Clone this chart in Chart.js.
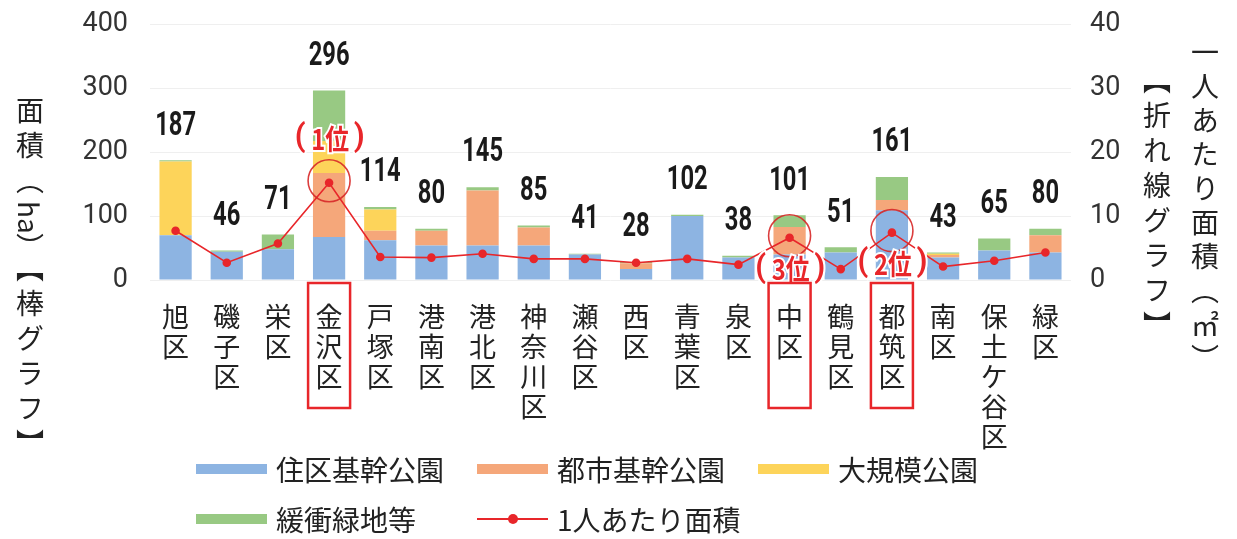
<!DOCTYPE html>
<html lang="ja">
<head>
<meta charset="utf-8">
<title>公園面積</title>
<script src="https://cdn.jsdelivr.net/npm/chart.js@4.4.1/dist/chart.umd.min.js"></script>
<style>
  body { margin: 0; background: #fff; }
  #wrap { position: relative; width: 1237px; height: 539px; overflow: hidden; }
  #wrap canvas { position: absolute; left: 0; top: 0; }
  .vtitle {
    position: absolute;
    writing-mode: vertical-rl;
    font-family: 'Noto Sans CJK JP', sans-serif;
    font-size: 28px;
    line-height: 30px;
    letter-spacing: 7px;
    color: #222;
    white-space: nowrap;
  }
  .vtitle .lat { letter-spacing: 0; }
  #legend {
    position: absolute; left: 196px; top: 444px;
    display: grid; grid-template-columns: 281px 281px 281px;
    grid-auto-rows: 50px;
    font-family: 'Noto Sans CJK JP', sans-serif;
    font-size: 28px; color: #222;
  }
  .item { display: flex; align-items: center; white-space: nowrap; }
  .swatch { width: 71px; height: 10px; margin-right: 9px; flex: none; position: relative; }
</style>
</head>
<body>
<div id="wrap">
  <canvas id="c" width="1237" height="539"></canvas>
  <div class="vtitle" style="left:15px; top:96px;">面積（<span class="lat">ha</span>）【棒グラフ】</div>
  <div class="vtitle" style="left:1190px; top:38px; letter-spacing:6px;">一人あたり面積（㎡）</div>
  <div class="vtitle" style="left:1142px; top:66px; letter-spacing:7px;">【折れ線グラフ】</div>
  <div id="legend"></div>
</div>
<script>
// --- data ---
const wards = ['旭区', '磯子区', '栄区', '金沢区', '戸塚区', '港南区', '港北区', '神奈川区', '瀬谷区',
  '西区', '青葉区', '泉区', '中区', '鶴見区', '都筑区', '南区', '保土ケ谷区', '緑区'];

// 面積 (ha)
const jukuPark   = [70, 44, 48, 67, 62, 54, 54, 54, 40, 17, 100, 35, 40, 43, 109, 35, 46, 43]; // 住区基幹公園
const toshiPark  = [0, 0, 0, 100, 15, 23, 86, 28, 0, 9, 0, 0, 43, 0, 16, 4, 0, 27];           // 都市基幹公園
const largePark  = [115, 0, 0, 50, 33, 0, 0, 0, 0, 0, 0, 0, 0, 0, 0, 2, 0, 0];                 // 大規模公園
const bufferArea = [2, 2, 23, 79, 4, 3, 5, 3, 1, 2, 2, 3, 18, 8, 36, 2, 19, 10];              // 緩衝緑地等

// 1人あたり面積 (㎡)
const perPerson = [7.7, 2.7, 5.7, 15.2, 3.6, 3.5, 4.1, 3.3, 3.3, 2.7, 3.3, 2.4, 6.6, 1.7, 7.4, 2.1, 3.0, 4.3];

const leftTicks = [0, 100, 200, 300, 400];
const rightTicks = [0, 10, 20, 30, 40];

// ranking callouts: ward index, rank number
const rankWards = [3, 14, 12];
const rankNums = ['1', '2', '3'];

const totals = wards.map((_, i) => jukuPark[i] + toshiPark[i] + largePark[i] + bufferArea[i]);

const RED = '#e8262a';
const colors = ['#8db4e2', '#f5a77a', '#fdd45a', '#98c983'];

// --- plugins ---
const totalLabels = {
  id: 'totalLabels',
  afterDatasetsDraw(chart) {
    const { ctx, scales: { x, y } } = chart;
    ctx.save();
    ctx.fillStyle = '#1a1a1a';
    ctx.font = 'bold 33px Roboto, sans-serif';
    ctx.textAlign = 'center';
    ctx.textBaseline = 'middle';
    totals.forEach((t, i) => {
      const px = x.getPixelForValue(i);
      const py = y.getPixelForValue(t) - 34;
      ctx.save();
      ctx.translate(px, py);
      ctx.scale(0.72, 1);
      ctx.fillText(String(t), 0, 0);
      ctx.restore();
    });
    ctx.restore();
  }
};

function haloText(ctx, s, x, y) {
  ctx.strokeText(s, x, y);
  ctx.fillText(s, x, y);
}

const rankMarks = {
  id: 'rankMarks',
  afterDraw(chart) {
    const { ctx, scales: { x, y2 } } = chart;
    ctx.save();
    rankWards.forEach((idx, k) => {
      const px = x.getPixelForValue(idx);
      const py = y2.getPixelForValue(perPerson[idx]);
      // circle round the point
      ctx.strokeStyle = 'rgba(215,40,40,0.9)';
      ctx.lineWidth = 1.6;
      ctx.beginPath();
      ctx.arc(px, py - 2, 21, 0, Math.PI * 2);
      ctx.stroke();
      // rank text  (n位)
      const ty = k === 0 ? py - 43 : py + 32;
      ctx.textAlign = 'center';
      ctx.textBaseline = 'middle';
      ctx.lineWidth = 4;
      ctx.strokeStyle = '#fff';
      ctx.fillStyle = RED;
      ctx.font = 'bold 31px Roboto, sans-serif';
      haloText(ctx, '(', px - 29, ty - 1);
      haloText(ctx, ')', px + 30, ty - 1);
      ctx.font = 'bold 28px "Noto Sans CJK JP", sans-serif';
      ctx.save();
      ctx.translate(px + 1, ty);
      ctx.scale(0.85, 1);
      haloText(ctx, rankNums[k] + '位', 0, 0);
      ctx.restore();
      // box round the ward label
      ctx.strokeStyle = RED;
      ctx.lineWidth = 2.5;
      ctx.strokeRect(px - 21, 283, 42, 125);
    });
    ctx.restore();
  }
};

// --- chart ---
const barSet = (label, data, color) => ({
  type: 'bar', label, data, backgroundColor: color,
  stack: 's', yAxisID: 'y', order: 2,
  barPercentage: 0.63, categoryPercentage: 1.0
});

new Chart(document.getElementById('c'), {
  data: {
    labels: wards.map(w => w.split('')),
    datasets: [
      {
        type: 'line', label: '1人あたり面積', data: perPerson, yAxisID: 'y2', order: 1,
        borderColor: RED, backgroundColor: RED, borderWidth: 1.6,
        pointRadius: 3.5, pointHoverRadius: 3.5, tension: 0
      },
      barSet('住区基幹公園', jukuPark, colors[0]),
      barSet('都市基幹公園', toshiPark, colors[1]),
      barSet('大規模公園', largePark, colors[2]),
      barSet('緩衝緑地等', bufferArea, colors[3])
    ]
  },
  options: {
    responsive: false,
    animation: false,
    layout: { padding: { top: 24, left: 0, right: 0, bottom: 0 } },
    plugins: { legend: { display: false }, tooltip: { enabled: false } },
    scales: {
      x: {
        stacked: true,
        grid: { display: false },
        border: { display: false },
        ticks: {
          color: '#222', padding: 14, maxRotation: 0, minRotation: 0, autoSkip: false,
          font: { family: '"Noto Sans CJK JP", sans-serif', size: 27, lineHeight: 30 / 27 }
        },
        afterFit(s) { s.height = 259; }
      },
      y: {
        stacked: true, position: 'left', min: 0, max: 400,
        afterBuildTicks(s) { s.ticks = leftTicks.map(v => ({ value: v })); },
        grid: { color: '#efefef', drawTicks: false },
        border: { display: false },
        ticks: { color: '#333', padding: 22, font: { family: 'Roboto, sans-serif', size: 27 } },
        afterFit(s) { s.width = 150; s.paddingTop = 0; s.paddingBottom = 0; }
      },
      y2: {
        position: 'right', min: 0, max: 40,
        afterBuildTicks(s) { s.ticks = rightTicks.map(v => ({ value: v })); },
        grid: { display: false, drawTicks: false },
        border: { display: false },
        ticks: { color: '#333', padding: 19, font: { family: 'Roboto, sans-serif', size: 27 } },
        afterFit(s) { s.width = 166; s.paddingTop = 0; s.paddingBottom = 0; }
      }
    }
  },
  plugins: [totalLabels, rankMarks]
});

// --- legend (html) ---
const legend = document.getElementById('legend');
const legendItems = [
  ['住区基幹公園', colors[0]], ['都市基幹公園', colors[1]], ['大規模公園', colors[2]],
  ['緩衝緑地等', colors[3]], ['1人あたり面積', null]
];
legendItems.forEach(([name, col]) => {
  const it = document.createElement('div');
  it.className = 'item';
  const sw = document.createElement('span');
  sw.className = 'swatch';
  if (col) {
    sw.style.background = col;
  } else {
    sw.style.height = '2px';
    sw.style.background = RED;
    const dot = document.createElement('span');
    dot.style.cssText = 'position:absolute;left:31px;top:-4px;width:10px;height:10px;border-radius:50%;background:' + RED;
    sw.appendChild(dot);
  }
  const tx = document.createElement('span');
  tx.textContent = name;
  it.appendChild(sw);
  it.appendChild(tx);
  legend.appendChild(it);
});
</script>
</body>
</html>
